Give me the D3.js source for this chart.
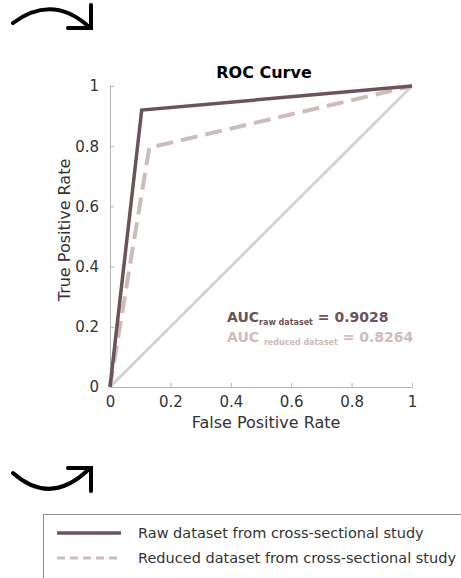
<!DOCTYPE html>
<html>
<head>
<meta charset="utf-8">
<script src="https://cdn.jsdelivr.net/npm/d3@7"></script>
<style>
  body { margin: 0; background: #fff; }
  svg { display: block; font-family: "DejaVu Sans", Verdana, sans-serif; }
</style>
</head>
<body>
<svg id="chart" width="461" height="578"></svg>
<script>
// ROC points
const rawFPR = [0, 0.105, 1];
const rawTPR = [0, 0.92, 1];
const reducedFPR = [0, 0.13, 1];
const reducedTPR = [0, 0.795, 1];
const chanceFPR = [0, 1];
const chanceTPR = [0, 1];
const tickValues = [0, 0.2, 0.4, 0.6, 0.8, 1];
const tickLabels = ["0", "0.2", "0.4", "0.6", "0.8", "1"];
const legendLabels = ["Raw dataset from cross-sectional study", "Reduced dataset from cross-sectional study"];
const aucRaw = "0.9028";
const aucReduced = "0.8264";

const rawColor = "#6b5357";
const reducedColor = "#cdbcbc";
const chanceColor = "#d3d3d3";
const axisColor = "#b3b3b3";

const svg = d3.select("#chart");

const x = d3.scaleLinear().domain([0, 1]).range([110, 412]);
const y = d3.scaleLinear().domain([0, 1]).range([387, 86]);

// decorative arrows
svg.append("path")
  .attr("d", "M13,23 Q52,-6 88,26")
  .attr("fill", "none").attr("stroke", "#000").attr("stroke-width", 4).attr("stroke-linecap", "round");
svg.append("path")
  .attr("d", "M68,28 L91,28 L91,5")
  .attr("fill", "none").attr("stroke", "#000").attr("stroke-width", 4).attr("stroke-linecap", "round");
svg.append("path")
  .attr("d", "M13,473 Q50,506 88,470")
  .attr("fill", "none").attr("stroke", "#000").attr("stroke-width", 4).attr("stroke-linecap", "round");
svg.append("path")
  .attr("d", "M68,468 L91,468 L91,491")
  .attr("fill", "none").attr("stroke", "#000").attr("stroke-width", 4).attr("stroke-linecap", "round");

// axes
const xAxis = d3.axisBottom(x).tickValues(tickValues)
  .tickFormat((d, i) => tickLabels[i]).tickSizeInner(-4).tickSizeOuter(0).tickPadding(9);
const yAxis = d3.axisLeft(y).tickValues(tickValues)
  .tickFormat((d, i) => tickLabels[i]).tickSizeInner(-4).tickSizeOuter(0).tickPadding(11);

const gx = svg.append("g").attr("transform", "translate(0,387)").call(xAxis);
const gy = svg.append("g").attr("transform", "translate(110,0)").call(yAxis);
[gx, gy].forEach(g => {
  g.select(".domain").attr("stroke", axisColor);
  g.selectAll(".tick line").attr("stroke", axisColor);
  g.selectAll(".tick text").attr("fill", "#333").style("font-size", "15px")
    .style("font-family", "'DejaVu Sans', Verdana, sans-serif");
});

// lines
const line = d3.line().x(d => x(d[0])).y(d => y(d[1]));

svg.append("path")
  .datum(d3.zip(chanceFPR, chanceTPR))
  .attr("d", line).attr("fill", "none").attr("stroke", chanceColor).attr("stroke-width", 3);

svg.append("path")
  .datum(d3.zip(reducedFPR, reducedTPR))
  .attr("d", line).attr("fill", "none").attr("stroke", reducedColor)
  .attr("stroke-width", 4).attr("stroke-dasharray", "17,8");

svg.append("path")
  .datum(d3.zip(rawFPR, rawTPR))
  .attr("d", line).attr("fill", "none").attr("stroke", rawColor).attr("stroke-width", 3.5);

// title + axis labels
svg.append("text").attr("x", 264).attr("y", 78).attr("text-anchor", "middle")
  .style("font-size", "16px").style("font-weight", "bold").attr("fill", "#000").text("ROC Curve");

svg.append("text").attr("x", 266).attr("y", 428).attr("text-anchor", "middle")
  .style("font-size", "16px").attr("fill", "#333").text("False Positive Rate");

svg.append("text").attr("transform", "translate(70,230) rotate(-90)").attr("text-anchor", "middle")
  .style("font-size", "16px").attr("fill", "#333").text("True Positive Rate");

// AUC annotations
const auc1 = svg.append("text").attr("x", 227).attr("y", 322).attr("fill", rawColor)
  .style("font-weight", "bold").style("font-size", "14px");
auc1.append("tspan").text("AUC");
auc1.append("tspan").attr("dy", 3).style("font-size", "8px").text("raw dataset");
auc1.append("tspan").attr("dy", -3).text(" = " + aucRaw);

const auc2 = svg.append("text").attr("x", 227).attr("y", 342).attr("fill", reducedColor)
  .style("font-weight", "bold").style("font-size", "14px");
auc2.append("tspan").text("AUC ");
auc2.append("tspan").attr("dy", 3).style("font-size", "8px").text("reduced dataset");
auc2.append("tspan").attr("dy", -3).text(" = " + aucReduced);

// legend
svg.append("rect").attr("x", 43.5).attr("y", 514.5).attr("width", 430).attr("height", 80)
  .attr("fill", "none").attr("stroke", "#8a8a8a");

const legend = svg.selectAll(".legend-item").data(legendLabels).enter().append("g")
  .attr("class", "legend-item")
  .attr("transform", (d, i) => "translate(0," + (533 + i * 25) + ")");
legend.append("line").attr("x1", 57).attr("x2", 121).attr("y1", 0).attr("y2", 0)
  .attr("stroke", (d, i) => i === 0 ? rawColor : reducedColor)
  .attr("stroke-width", (d, i) => i === 0 ? 3.5 : 3)
  .attr("stroke-dasharray", (d, i) => i === 0 ? null : "8,5");
legend.append("text").attr("x", 138).attr("y", 5).attr("fill", "#333")
  .style("font-size", "14.5px").text(d => d);
</script>
</body>
</html>
